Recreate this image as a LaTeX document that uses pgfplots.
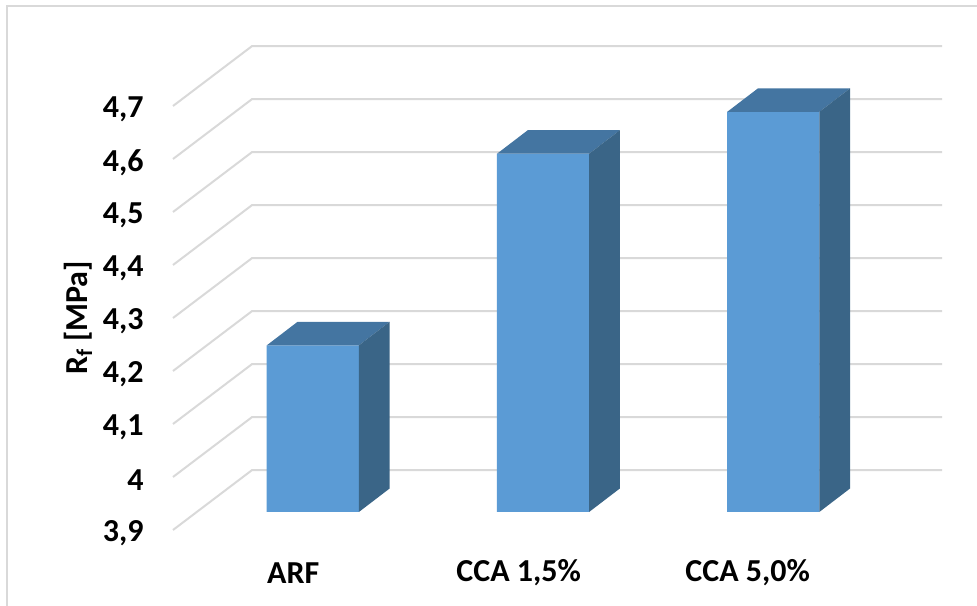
\documentclass[border=0pt]{standalone}
\usepackage{fontspec}
\setmainfont{Carlito}
\usepackage{pgfplots}
\pgfplotsset{compat=1.18}
\definecolor{barfront}{HTML}{5B9BD5}
\definecolor{bartop}{HTML}{4475A1}
\definecolor{barside}{HTML}{3A6587}
\definecolor{gridc}{HTML}{D9D9D9}
\begin{document}
\begin{tikzpicture}
% page frame: only the top and left edges are visible
\path[use as bounding box] (0pt,0pt) rectangle (732.75pt,454.5pt);
\draw[gridc,line width=1.5pt] (4.9pt,0pt) -- (4.9pt,450pt) -- (732.75pt,450pt);

% walls of the chart box, with the value scale on the front edge
\begin{axis}[
  at={(129.75pt,57pt)}, anchor=south west,
  scale only axis, width=576.75pt, height=318pt,
  xmin=0, xmax=769, ymin=3.9, ymax=4.7,
  axis line style={draw=none}, tick style={draw=none},
  xtick=\empty,
  ytick={3.9,4.0,4.1,4.2,4.3,4.4,4.5,4.6,4.7},
  yticklabels={{3,9},{4},{4,1},{4,2},{4,3},{4,4},{4,5},{4,6},{4,7}},
  yticklabel style={font=\fontsize{24}{24}\selectfont\bfseries, anchor=east, xshift=-18.5pt, yshift=-2.5pt},
  ylabel={R\textsubscript{f} [MPa]},
  ylabel style={font=\fontsize{24}{24}\selectfont\bfseries, at={(axis description cs:-0.1235,0.5)}, anchor=center, rotate=0},
  clip=false,
]
\pgfplotsinvokeforeach{3.9,4.0,4.1,4.2,4.3,4.4,4.5,4.6,4.7}{
  \addplot[gridc,line width=1.5pt,forget plot] coordinates {(0,#1) (79,#1+0.113) (769,#1+0.113)};
}
\end{axis}

% columns: front faces carry the values, top and side faces give the depth
\begin{axis}[
  at={(129.75pt,70.5pt)}, anchor=south west,
  scale only axis, width=576.75pt, height=318pt,
  xmin=-0.6075, xmax=2.733, ymin=3.9, ymax=4.7,
  axis line style={draw=none}, tick style={draw=none},
  ytick=\empty,
  % category names sit a little left of their columns
  xtick={-0.085,0.894,1.889},
  xticklabels={ARF,{CCA 1,5\%},{CCA 5,0\%}},
  xticklabel style={font=\fontsize{24}{24}\selectfont\bfseries, anchor=center, yshift=-45.5pt},
  clip=false,
]
\addplot[ybar, bar width=69.2pt, fill=barfront, draw=none] coordinates {(0,4.2145) (1,4.576) (2,4.655)};
% ARF
\addplot[fill=bartop,draw=none,forget plot] coordinates {(-0.2,4.2145) (-0.0666,4.2588) (0.3334,4.2588) (0.2,4.2145)} -- cycle;
\addplot[fill=barside,draw=none,forget plot] coordinates {(0.2,3.9) (0.3334,3.9443) (0.3334,4.2588) (0.2,4.2145)} -- cycle;
% CCA 1,5%
\addplot[fill=bartop,draw=none,forget plot] coordinates {(0.8,4.576) (0.9334,4.6203) (1.3334,4.6203) (1.2,4.576)} -- cycle;
\addplot[fill=barside,draw=none,forget plot] coordinates {(1.2,3.9) (1.3334,3.9443) (1.3334,4.6203) (1.2,4.576)} -- cycle;
% CCA 5,0%
\addplot[fill=bartop,draw=none,forget plot] coordinates {(1.8,4.655) (1.9334,4.6993) (2.3334,4.6993) (2.2,4.655)} -- cycle;
\addplot[fill=barside,draw=none,forget plot] coordinates {(2.2,3.9) (2.3334,3.9443) (2.3334,4.6993) (2.2,4.655)} -- cycle;
\end{axis}
\end{tikzpicture}
\end{document}
